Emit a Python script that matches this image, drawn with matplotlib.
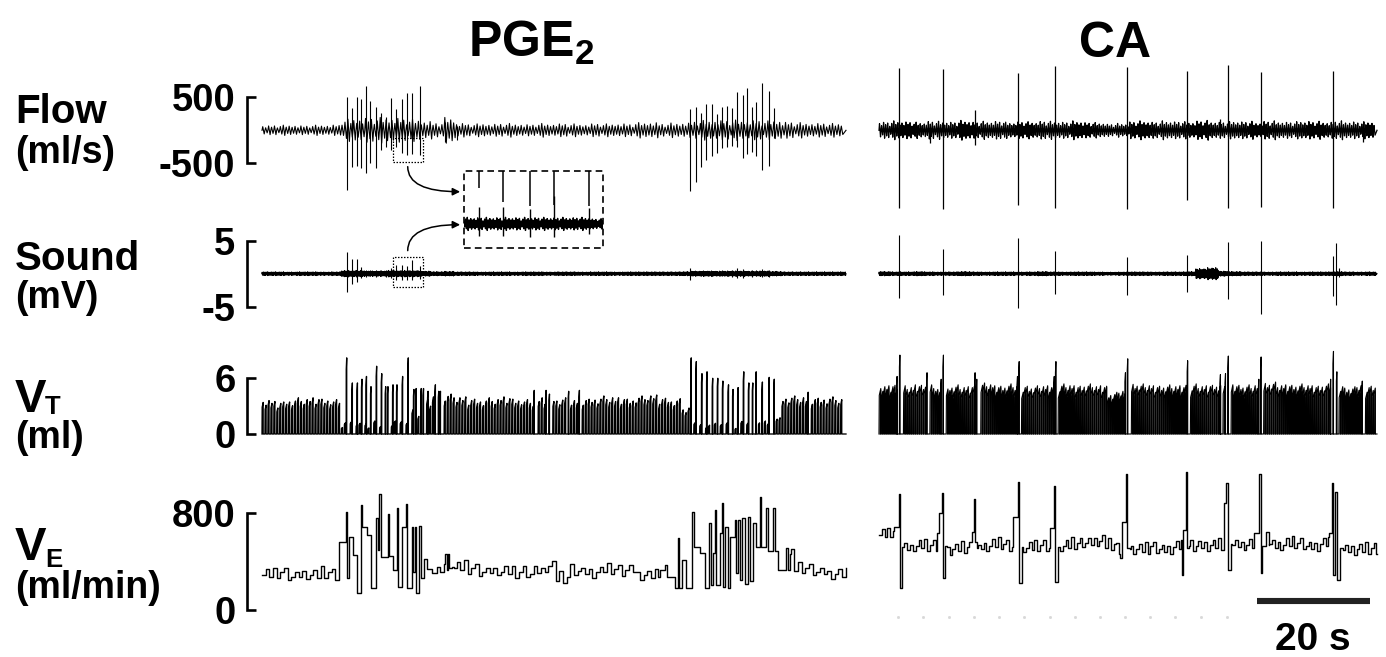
import matplotlib.pyplot as plt
import numpy as np
from matplotlib.patches import Rectangle

plt.rcParams['font.family'] = ['Liberation Sans', 'DejaVu Sans']
plt.rcParams['font.weight'] = 'bold'
plt.rcParams['mathtext.fontset'] = 'custom'
plt.rcParams['mathtext.rm'] = 'Liberation Sans:bold'
plt.rcParams['mathtext.it'] = 'Liberation Sans:bold'
plt.rcParams['mathtext.bf'] = 'Liberation Sans:bold'

W, H = 1386, 657

# recording lengths and resting breath interval (s)
pge_len = 103.4
ca_len = 88.1
pge_period = 0.52
ca_period = 0.36
snd_period = 0.13
pge_ve_step = 0.65
ca_ve_step = 0.5

# resting levels, one value per 2 s window
pge_flow_env = [55, 60, 60, 55, 60, 60, 65,
                130, 140, 150, 150, 150, 140, 130,
                110, 90, 150, 85,
                75, 80, 75, 80, 75, 70, 80, 75, 80, 75, 70, 80, 75, 80, 75,
                90, 95, 80, 85, 90,
                110, 115, 120, 120, 115, 120, 110, 120,
                100, 90, 85, 85, 80, 85]
pge_snd_env = [0.22, 0.22, 0.2, 0.22, 0.22, 0.2, 0.22,
               0.38, 0.38, 0.32, 0.32, 0.38, 0.38, 0.38,
               0.3, 0.24, 0.27, 0.22,
               0.22, 0.2, 0.22, 0.22, 0.2, 0.22, 0.22, 0.2, 0.22, 0.22, 0.2, 0.22, 0.22, 0.2, 0.22,
               0.22, 0.22, 0.22, 0.22, 0.24,
               0.3, 0.32, 0.3, 0.32, 0.32, 0.3, 0.32, 0.27,
               0.22, 0.22, 0.22, 0.22, 0.22, 0.22]
pge_vt_env = [3.4, 3.2, 3.4, 3.5, 3.6, 3.5, 3.3,
              1.0, 0.9, 1.0, 1.1, 1.3, 1.5, 2.2,
              3.4, 3.9, 3.9, 3.7,
              3.5, 3.4, 3.5, 3.7, 3.5, 3.3, 3.6, 3.7, 3.5, 3.4, 3.5, 3.6, 3.7, 3.6, 3.5,
              3.7, 3.9, 3.6, 3.4, 2.6,
              0.9, 0.9, 1.0, 1.0, 1.1, 1.2, 1.2, 1.5,
              3.7, 3.7, 3.6, 3.6, 3.6, 3.5]
pge_ve_env = [290, 300, 285, 300, 285, 300, 290,
              330, 330, 330, 330, 330, 330, 330, 330, 330, 330,
              350, 330, 320, 330, 315, 300, 310, 330, 360, 260, 330, 320, 310, 330, 320, 340, 290, 280,
              310, 330, 330, 330, 330, 330, 330, 330, 330, 330, 330,
              460, 340, 330, 320, 300, 290]

ca_flow_env = [100, 110, 105, 95, 110, 105, 100, 115, 100, 105,
               110, 95, 105, 100, 110, 105, 100, 110, 95, 90,
               75, 80, 105, 110, 100, 110, 105, 100, 115, 105,
               100, 110, 105, 95, 110, 105, 100, 110, 105, 100,
               110, 105, 100, 105, 110]
ca_snd_env = [0.25, 0.22, 0.22, 0.25, 0.22, 0.2, 0.22, 0.25, 0.22, 0.2,
              0.22, 0.22, 0.2, 0.22, 0.25, 0.22, 0.2, 0.22, 0.22, 0.2,
              0.18, 0.2, 0.22, 0.22, 0.2, 0.22, 0.22, 0.25, 0.6, 0.7,
              0.3, 0.25, 0.22, 0.22, 0.2, 0.22, 0.22, 0.2, 0.22, 0.22,
              0.25, 0.22, 0.2, 0.22, 0.22]
ca_vt_env = [4.9, 5.0, 4.8, 5.0, 4.9, 4.6, 4.9, 4.8, 4.9, 5.1,
             4.9, 5.0, 4.9, 4.8, 4.9, 4.9, 5.0, 4.9, 5.0, 4.9,
             4.1, 4.4, 5.1, 5.0, 4.9, 4.9, 4.9, 5.0, 4.9, 5.0,
             5.1, 5.0, 4.9, 5.0, 5.2, 5.0, 5.0, 5.0, 4.9, 5.0,
             5.0, 4.7, 5.0, 4.9, 4.9]
ca_ve_env = [620, 640, 520, 530, 525, 530, 500, 505, 510, 530,
             540, 530, 520, 515, 525, 520, 530, 540, 560, 570,
             530, 500, 505, 500, 510, 505, 520, 530, 540, 535,
             530, 545, 540, 535, 545, 540, 550, 540, 530, 545,
             510, 505, 500, 500, 505]

# breath-to-breath spread read from quiet stretches
flow_mult = [1.0, 0.7, 1.2, 0.85, 1.1, 0.6, 0.95, 1.3, 0.8, 1.05, 0.75]
vt_jitter = [0.0, -0.3, 0.2, -0.1, 0.3, -0.4, 0.1, 0.25, -0.2, 0.05, -0.35, 0.15, 0.4]
ve_jitter = [0, 45, -20, 60, -35, 15, 50, -40, -10, 30, -25, 20, -45]

# sighs / augmented breaths, PGE2
pge_flow_t = [15.0, 15.9, 16.8, 17.6, 18.4, 19.2, 20.1, 21.0, 21.9, 22.9, 23.8, 24.7, 25.7, 26.6, 27.9,
              32.4, 34.5,
              75.8, 76.8, 77.7, 78.6, 79.6, 80.6, 81.5, 82.3, 83.2, 84.1, 85.1, 85.9, 86.8, 87.4, 88.6, 89.7, 90.7]
pge_flow_up = [509, 333, 509, 470, 671, 448, 358, 258, 206, 485, 318, 470, 560, 560, 671,
               120, 60,
               318, 358, 267, 394, 394, 247, 358, 373, 333, 585, 535, 645, 358, 433, 712, 600, 333]
pge_flow_dn = [-904, -551, -541, -576, -651, -500, -576, -298, -248, -298, -248, -348, -374, -364, -374,
               -180, -150,
               -920, -779, -561, -450, -385, -348, -264, -258, -238, -248, -424, -359, -323, -394, -601, -541, -121]

pge_snd_t = [15.0, 15.9, 16.8, 17.6, 18.4, 19.2, 20.1, 21.0, 21.9, 22.9, 23.8, 24.7, 25.7, 26.6, 27.9,
             75.8, 77.7, 79.6, 81.5, 83.2, 84.1, 85.1, 86.8, 87.4, 88.6, 89.7]
pge_snd_up = [3.3, 2.2, 2.3, 1.0, 0.6, 0.5, 0.6, 0.5, 0.6, 0.8, 1.3, 1.3, 1.1, 2.1, 1.2,
              0.8, 0.4, 0.4, 0.5, 0.6, 0.8, 0.7, 0.6, 0.6, 0.7, 0.6]
pge_snd_dn = [-2.7, -1.5, -1.2, -0.7, -0.5, -0.4, -0.5, -0.4, -0.5, -0.6, -0.9, -0.9, -1.0, -1.0, -0.8,
              -0.9, -0.4, -0.3, -0.4, -0.5, -0.7, -0.6, -0.5, -0.4, -0.5, -0.5]

pge_vt_t = [14.9, 15.9, 16.8, 17.6, 18.4, 19.2, 20.2, 21.1, 21.8, 22.2, 23.1, 23.8, 24.8, 25.8,
            26.8, 27.2, 28.1, 28.5, 29.3, 30.6, 31.2, 31.5,
            48.1, 50.2, 50.8, 54.2, 56.1,
            75.9, 76.8, 77.8, 78.7, 79.7, 80.6, 81.5, 82.5, 83.3, 84.2, 85.2, 86.1, 86.8, 87.4, 88.5, 89.7, 90.6,
            96.6]
pge_vt_v = [8.2, 5.5, 5.5, 5.9, 6.2, 5.1, 7.3, 6.5, 5.1, 5.1, 5.3, 5.3, 6.2, 8.2,
            4.8, 4.9, 4.9, 4.9, 4.6, 5.3, 4.6, 4.6,
            4.7, 4.7, 4.3, 4.6, 4.7,
            8.2, 7.8, 6.5, 6.7, 6.0, 6.0, 5.7, 5.3, 4.8, 5.0, 6.7, 5.5, 5.5, 6.7, 5.6, 6.1, 5.9,
            4.5]

pge_ve_t = [13.69, 14.87, 14.99, 15.45, 16.05, 16.75, 17.46, 17.7, 18.53, 19.23, 20.18, 20.59, 20.77,
            21.0, 22.36, 22.54, 23.24, 23.83, 24.07, 24.72, 25.49, 25.72, 26.49, 26.78, 27.08, 27.26,
            27.85, 28.08, 28.67, 29.26, 30.03, 30.91, 31.5, 32.21, 32.45, 32.68, 32.98, 33.16, 33.57,
            70.44, 71.33, 71.74, 73.1, 73.69, 73.86, 74.45, 75.04, 76.22, 76.52, 77.52, 78.41, 79.17,
            79.41, 79.88, 80.18, 80.47, 81.06, 81.36, 81.65, 82.0, 82.42, 82.83, 83.72, 84.01, 84.31,
            84.6, 85.07, 85.49, 86.08, 86.37, 86.96, 87.55, 88.14, 88.32, 89.32, 89.62, 90.5, 90.8,
            91.39, 92.75, 93.16]
pge_ve_v = [563, 811, 261, 605, 454, 138, 866, 687, 619, 179, 756, 495, 957,
            440, 792, 445, 330, 838, 193, 687, 874, 179, 687, 316, 687, 143,
            693, 261, 418, 336, 303, 352, 316, 380, 462, 330, 462, 350, 352,
            330, 371, 275, 179, 591, 179, 413, 179, 811, 523, 468, 179, 715,
            206, 468, 825, 206, 638, 880, 193, 687, 179, 605, 743, 302, 743,
            248, 756, 215, 770, 239, 715, 523, 935, 523, 839, 490, 839, 490,
            330, 509, 330]
pge_ve_win_a = [13.69, 70.44]
pge_ve_win_b = [34.0, 93.5]

# sighs / augmented breaths, CA
ca_flow_t = [3.5, 9.0, 11.3, 16.9, 24.6, 31.2, 43.9, 54.5, 60.4, 61.7, 67.6, 80.4, 85.6]
ca_flow_up = [944, 40, 935, 314, 868, 970, 954, 894, 167, 985, 883, 904, 40]
ca_flow_dn = [-1177, -192, -1192, -217, -1126, -1177, -1186, -1060, -60, -1177, -1156, -1177, -170]

ca_snd_t = [3.5, 11.3, 24.6, 31.2, 43.9, 54.5, 61.7, 67.6, 80.4, 80.9, 81.4]
ca_snd_up = [5.8, 3.7, 5.4, 3.5, 2.5, 2.9, 4.8, 5.0, 2.7, 4.7, 0.8]
ca_snd_dn = [-3.7, -3.2, -5.2, -3.1, -3.3, -2.7, -3.8, -6.1, -3.4, -4.8, -0.5]

ca_vt_t = [3.1, 3.6, 8.4, 10.9, 11.3, 16.9, 17.2, 24.4, 24.7, 30.9, 31.2, 43.5, 43.9, 54.5,
           60.3, 61.2, 61.7, 67.1, 67.5, 79.8, 80.3, 80.9, 85.4]
ca_vt_v = [6.2, 8.5, 6.6, 5.9, 8.5, 6.6, 5.9, 6.2, 7.8, 6.2, 7.8, 6.6, 8.1, 7.9,
           6.4, 6.5, 8.4, 5.9, 8.3, 5.9, 8.9, 6.7, 5.7]

ca_ve_t = [2.65, 3.5, 3.68, 10.2, 10.68, 11.09, 11.33, 16.4, 16.75, 16.93, 23.77, 24.54, 24.72,
           30.26, 31.03, 31.21, 42.65, 43.07, 43.72, 43.95, 53.57, 53.86, 54.34, 54.57, 61.0, 61.47,
           61.71, 66.3, 67.2, 67.5, 67.8, 68.4, 79.6, 80.2, 80.4, 80.7, 81.0]
ca_ve_v = [682, 957, 179, 633, 798, 963, 261, 647, 913, 564, 770, 1059, 220,
           674, 1023, 234, 426, 729, 1122, 509, 289, 660, 1141, 509, 880, 1050,
           330, 633, 1122, 302, 530, 647, 633, 1050, 289, 976, 248]
ca_ve_win_a = [2.65, 10.2, 16.4, 23.77, 30.26, 42.65, 53.57, 61.0, 66.3, 79.6]
ca_ve_win_b = [4.1, 11.74, 17.3, 25.25, 31.74, 44.4, 54.9, 62.3, 69.0, 81.5]

ca_mark_t = [3.4, 7.8, 12.4, 16.8, 21.2, 25.7, 30.3, 34.7, 39.1, 43.6, 48.0, 52.4, 57.0, 61.6]

# scale brackets and the enlarged window
flow_ticks = [500, -500]
snd_ticks = [5, -5]
vt_ticks = [6, 0]
ve_ticks = [800, 0]
zoom_t = (23.24, 28.44)
zoom_flow = (-476, -121)
zoom_snd = (-2.06, 2.58)
bar_s = 20


def env_at(env, t):
    return env[min(int(t // 2), len(env) - 1)]


def draw_wave(ax, length, period, env, ev_t, ev_up, ev_dn, lw=0.8, clip=False):
    x, y = [], []
    for k, t0 in enumerate(np.arange(0, length - period, period)):
        a = env_at(env, t0) * flow_mult[k % len(flow_mult)]
        x += [t0, t0 + period / 4, t0 + 3 * period / 4]
        y += [0, a, -a]
    x.append(length)
    y.append(0)
    ax.plot(x, y, color='k', lw=lw, clip_on=clip)
    ax.vlines(ev_t, ev_dn, ev_up, color='k', lw=lw, clip_on=clip)


def draw_vt(ax, length, period, rise, env, ev_t, ev_v, pause, lw, filled):
    ev = np.array(ev_t)
    breaths = []
    for k, t0 in enumerate(np.arange(0, length - period, period)):
        if np.any((t0 > ev - 0.15) & (t0 < ev + pause)):
            continue
        v = max(env_at(env, t0) + vt_jitter[k % len(vt_jitter)], 0.2)
        breaths.append((t0, v, rise * period))
    breaths += [(t, v, 0.1) for t, v in zip(ev_t, ev_v)]
    breaths.sort()
    x, y = [], []
    for t0, v, r in breaths:
        # fast early rise, slower late rise, then reset of the integrator
        x += [t0, t0 + 0.15 * r, t0 + r, t0 + r]
        y += [0, 0.85 * v, v, 0]
    x.append(length)
    y.append(0)
    if filled:
        ax.fill_between(x, y, 0, color='k', lw=0, clip_on=False)
    ax.plot(x, y, color='k', lw=lw, clip_on=False)


def draw_ve(ax, length, step, env, st_t, st_v, win_a, win_b):
    pts = []
    for k, t0 in enumerate(np.arange(0, length, step)):
        if any(a <= t0 < b for a, b in zip(win_a, win_b)):
            continue
        pts.append((t0, env_at(env, t0) + ve_jitter[k % len(ve_jitter)]))
    pts += [(b, env_at(env, b)) for b in win_b]
    pts += list(zip(st_t, st_v))
    pts.sort()
    x = [p[0] for p in pts] + [length]
    y = [p[1] for p in pts] + [pts[-1][1]]
    ax.step(x, y, where='post', color='k', lw=1.0, clip_on=False)


fig = plt.figure(figsize=(W / 100, H / 100), dpi=100)


def trace_ax(x0, x1, y_top, y_bot, length, ticks):
    ax = fig.add_axes([x0 / W, 1 - y_bot / H, (x1 - x0) / W, (y_bot - y_top) / H])
    ax.set_xlim(0, length)
    ax.set_ylim(ticks[1], ticks[0])
    ax.axis('off')
    return ax


def ftext(x, y, s, size, **kw):
    fig.text(x / W, 1 - y / H, s, fontsize=size, **kw)


rows = [(97.3, 163.3, flow_ticks), (240.7, 306.7, snd_ticks),
        (378.3, 434.0, vt_ticks), (513.0, 610.0, ve_ticks)]
left = [trace_ax(262, 846, yt, yb, pge_len, tk) for yt, yb, tk in rows]
right = [trace_ax(879, 1377, yt, yb, ca_len, tk) for yt, yb, tk in rows]

# PGE2 column
draw_wave(left[0], pge_len, pge_period, pge_flow_env, pge_flow_t, pge_flow_up, pge_flow_dn)
draw_wave(left[1], pge_len, snd_period, pge_snd_env, pge_snd_t, pge_snd_up, pge_snd_dn)
draw_vt(left[2], pge_len, pge_period, 0.4, pge_vt_env, pge_vt_t, pge_vt_v, 0.3, 0.95, False)
draw_ve(left[3], pge_len, pge_ve_step, pge_ve_env, pge_ve_t, pge_ve_v, pge_ve_win_a, pge_ve_win_b)

# CA column
draw_wave(right[0], ca_len, ca_period, ca_flow_env, ca_flow_t, ca_flow_up, ca_flow_dn, lw=0.9)
draw_wave(right[1], ca_len, snd_period, ca_snd_env, ca_snd_t, ca_snd_up, ca_snd_dn)
draw_vt(right[2], ca_len, ca_period, 0.88, ca_vt_env, ca_vt_t, ca_vt_v, 0.45, 0.8, True)
draw_ve(right[3], ca_len, ca_ve_step, ca_ve_env, ca_ve_t, ca_ve_v, ca_ve_win_a, ca_ve_win_b)
right[3].plot(ca_mark_t, [-58] * len(ca_mark_t), ls='none', marker='s', ms=1,
              color='#d8d8d8', clip_on=False)

# scale brackets with their values
for ax, (_, _, tk) in zip(left, rows):
    ax.plot([-1.1, -2.6, -2.6, -1.1], [tk[0], tk[0], tk[1], tk[1]], color='k', lw=1.9,
            clip_on=False, solid_joinstyle='miter', solid_capstyle='butt')
    for v in tk:
        ax.text(-4.7, v, str(v), ha='right', va='center_baseline', fontsize=27.5)

# time bar
right[3].plot([66.8, 66.8 + bar_s], [74, 74], color='#222222', lw=4.4,
              solid_capstyle='butt', clip_on=False)
right[3].text(66.8 + bar_s / 2, -330, f'{bar_s} s', ha='center', va='baseline', fontsize=28)

# enlarged window
for ax, (lo, hi) in ((left[0], zoom_flow), (left[1], zoom_snd)):
    ax.add_patch(Rectangle((zoom_t[0], lo), zoom_t[1] - zoom_t[0], hi - lo, fill=False,
                           ls=(0, (1.2, 1.2)), lw=0.9, clip_on=False))

ins_pos = [464.3 / W, 1 - 247.7 / H, 139 / W, 76.7 / H]
ins_f = fig.add_axes(ins_pos)
ins_f.set_xlim(*zoom_t)
ins_f.set_ylim(-663, -132)
ins_f.axis('off')
ins_f.vlines(pge_flow_t, pge_flow_dn, pge_flow_up, color='k', lw=1.1)
ins_s = fig.add_axes(ins_pos)
ins_s.set_xlim(*zoom_t)
ins_s.set_ylim(-1.8, 4.0)
ins_s.axis('off')
draw_wave(ins_s, pge_len, snd_period / 2, pge_snd_env, pge_snd_t, pge_snd_up, pge_snd_dn,
          lw=1.0, clip=True)
ins_s.add_patch(Rectangle((0, 0), 1, 1, transform=ins_s.transAxes, fill=False,
                          ls=(0, (4, 2.5)), lw=1.2, clip_on=False))

arrow = dict(arrowstyle='-|>', color='k', lw=1.1, mutation_scale=11,
             connectionstyle='angle3,angleA=90,angleB=0', shrinkA=0, shrinkB=0)
ins_s.annotate('', xy=(-0.03, 0.73), xycoords=ins_s.transAxes,
               xytext=(25.8, -551), textcoords=left[0].transData, arrowprops=arrow)
ins_s.annotate('', xy=(-0.03, 0.30), xycoords=ins_s.transAxes,
               xytext=(25.8, 3.5), textcoords=left[1].transData, arrowprops=arrow)

# titles and row labels
ftext(531, 57, 'PGE$_2$', 36, ha='center', va='baseline')
ftext(1115, 57, 'CA', 36, ha='center', va='baseline')
ftext(15, 123, 'Flow', 29, va='baseline')
ftext(15, 163, '(ml/s)', 27, va='baseline')
ftext(15, 270, 'Sound', 29, va='baseline')
ftext(15, 308, '(mV)', 27, va='baseline')
ftext(15, 412, 'V', 34, va='baseline')
ftext(45, 414, 'T', 18.5, va='baseline')
ftext(15, 448, '(ml)', 27, va='baseline')
ftext(15, 560, 'V', 34, va='baseline')
ftext(45, 567, 'E', 18.5, va='baseline')
ftext(15, 598, '(ml/min)', 27, va='baseline')

fig.savefig('out.png', dpi=100)
